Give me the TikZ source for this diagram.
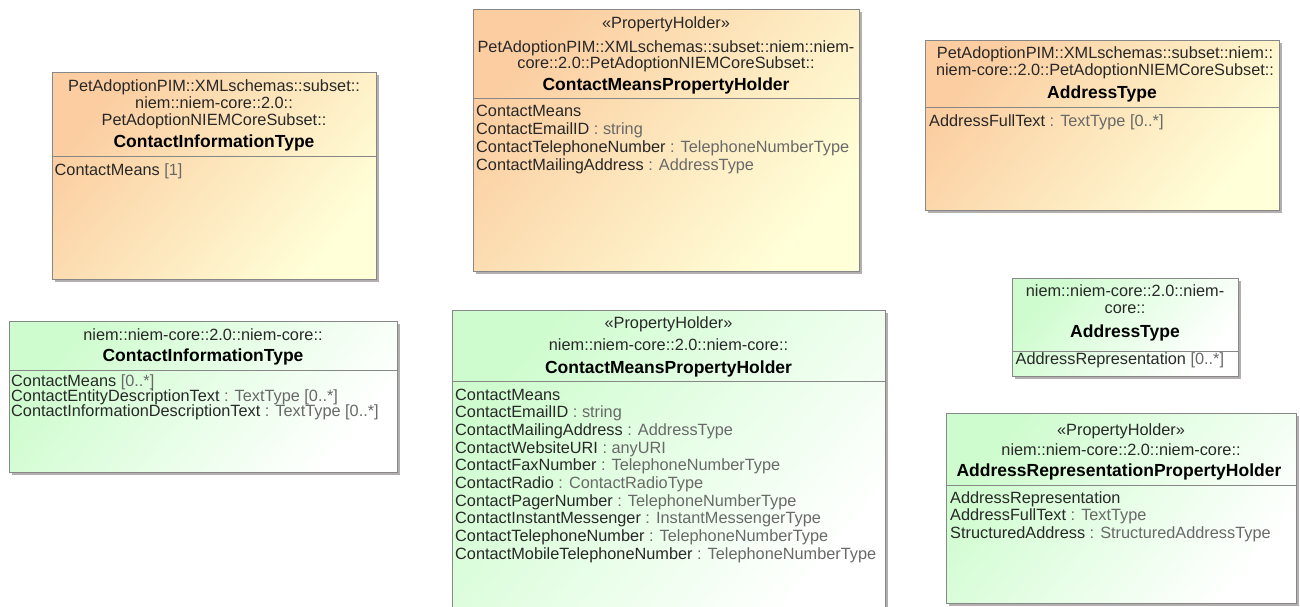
\documentclass[tikz,border=0pt]{standalone}
\usepackage{fontspec}
\setmainfont{Liberation Sans}
\usetikzlibrary{shadows}
\definecolor{orA}{RGB}{251,205,160}
\definecolor{orB}{RGB}{255,255,216}
\definecolor{grA}{RGB}{206,252,206}
\definecolor{grB}{RGB}{255,255,255}
\definecolor{borderc}{RGB}{135,135,135}
\definecolor{shadowc}{RGB}{180,175,175}
\definecolor{namec}{RGB}{40,40,40}
\definecolor{typec}{RGB}{105,105,105}
\newcommand\hfont{\fontsize{16.3}{18}\selectfont}
\newcommand\bfont{\fontsize{17.5}{19}\selectfont\bfseries}
\newcommand\ty[1]{\textcolor{typec}{#1}}
\begin{document}
\begin{tikzpicture}[x=1pt,y=-1pt,
  umlbase/.style={draw=borderc, line width=1pt, inner sep=0pt, outer sep=0pt,
    drop shadow={shadow xshift=3pt, shadow yshift=-3pt, fill=shadowc, opacity=1}},
  obox/.style={umlbase, top color=orA, bottom color=orB, shading angle=50},
  gbox/.style={umlbase, top color=grA, bottom color=grB, shading angle=50},
  div/.style={draw=borderc, line width=0.9pt},
  hd/.style={font=\hfont, text=namec, inner sep=0pt, anchor=base},
  bd/.style={font=\bfont, text=black, inner sep=0pt, anchor=base},
  att/.style={font=\hfont, text=namec, inner sep=0pt, anchor=base west}]
\useasboundingbox (0,0) rectangle (1300,606);
\clip (0,0) rectangle (1300,606);
\fill[white] (0,0) rectangle (1300,606);

% ---------- Box 1 : orange ContactInformationType
\node[obox, minimum width=324pt, minimum height=207pt] (b1) at (214,175.5) {};
\draw[div] (b1.west |- 0,156.7) -- (b1.east |- 0,156.7);
\node[hd] (b1h1) at (214,91.7) {PetAdoptionPIM::XMLschemas::subset::};
\node[hd] (b1h2) at (214,108) {niem::niem-core::2.0::};
\node[hd] (b1h3) at (214,125) {PetAdoptionNIEMCoreSubset::};
\node[bd] (b1n) at (214,147.3) {ContactInformationType};
\node[att] (b1a1) at (54.5,175) {ContactMeans \ty{[1]}};

% ---------- Box 2 : orange ContactMeansPropertyHolder
\node[obox, minimum width=386pt, minimum height=262pt] (b2) at (666,140) {};
\draw[div] (b2.west |- 0,98.3) -- (b2.east |- 0,98.3);
\node[hd] (b2s) at (666,28.3) {«PropertyHolder»};
\node[hd] (b2h1) at (666,52.3) {PetAdoptionPIM::XMLschemas::subset::niem::niem-};
\node[hd] (b2h2) at (666,68.6) {core::2.0::PetAdoptionNIEMCoreSubset::};
\node[bd] (b2n) at (666,90.7) {ContactMeansPropertyHolder};
\node[att] (b2a1) at (476,116.7) {ContactMeans};
\node[att] (b2a2) at (476,134.5) {ContactEmailID \ty{: string}};
\node[att] (b2a3) at (476,152.3) {ContactTelephoneNumber \ty{: TelephoneNumberType}};
\node[att] (b2a4) at (476,170) {ContactMailingAddress \ty{: AddressType}};

% ---------- Box 3 : orange AddressType
\node[obox, minimum width=354pt, minimum height=170pt] (b3) at (1102,125) {};
\draw[div] (b3.west |- 0,107.3) -- (b3.east |- 0,107.3);
\node[hd] (b3h1) at (1105,58.3) {PetAdoptionPIM::XMLschemas::subset::niem::};
\node[hd] (b3h2) at (1105,75) {niem-core::2.0::PetAdoptionNIEMCoreSubset::};
\node[bd] (b3n) at (1102,98.3) {AddressType};
\node[att] (b3a1) at (929,126.7) {AddressFullText \ty{: TextType [0..*]}};

% ---------- Box 4 : green ContactInformationType
\node[gbox, minimum width=388pt, minimum height=151pt] (b4) at (203,396.5) {};
\draw[div] (b4.west |- 0,370) -- (b4.east |- 0,370);
\node[hd] (b4h1) at (203,340) {niem::niem-core::2.0::niem-core::};
\node[bd] (b4n) at (203,361.7) {ContactInformationType};
\node[att] (b4a1) at (11,386.7) {ContactMeans \ty{[0..*]}};
\node[att] (b4a2) at (11,401.7) {ContactEntityDescriptionText \ty{: TextType [0..*]}};
\node[att] (b4a3) at (11,416.5) {ContactInformationDescriptionText \ty{: TextType [0..*]}};

% ---------- Box 5 : green ContactMeansPropertyHolder
\node[gbox, minimum width=433pt, minimum height=306pt] (b5) at (668.5,463) {};
\draw[div] (b5.west |- 0,381) -- (b5.east |- 0,381);
\node[hd] (b5s) at (668.5,328.3) {«PropertyHolder»};
\node[hd] (b5h1) at (668.5,350) {niem::niem-core::2.0::niem-core::};
\node[bd] (b5n) at (668.5,373.3) {ContactMeansPropertyHolder};
\node[att] (b5a1) at (455,400) {ContactMeans};
\node[att] (b5a2) at (455,417.7) {ContactEmailID \ty{: string}};
\node[att] (b5a3) at (455,435.4) {ContactMailingAddress \ty{: AddressType}};
\node[att] (b5a4) at (455,453.1) {ContactWebsiteURI \ty{: anyURI}};
\node[att] (b5a5) at (455,470.8) {ContactFaxNumber \ty{: TelephoneNumberType}};
\node[att] (b5a6) at (455,488.5) {ContactRadio \ty{: ContactRadioType}};
\node[att] (b5a7) at (455,506.2) {ContactPagerNumber \ty{: TelephoneNumberType}};
\node[att] (b5a8) at (455,523.9) {ContactInstantMessenger \ty{: InstantMessengerType}};
\node[att] (b5a9) at (455,541.6) {ContactTelephoneNumber \ty{: TelephoneNumberType}};
\node[att] (b5a10) at (455,559.3) {ContactMobileTelephoneNumber \ty{: TelephoneNumberType}};

% ---------- Box 6 : green AddressType
\node[gbox, minimum width=226pt, minimum height=98pt] (b6) at (1125,327) {};
\draw[div] (b6.west |- 0,351.7) -- (b6.east |- 0,351.7);
\node[hd] (b6h1) at (1125,296.7) {niem::niem-core::2.0::niem-};
\node[hd] (b6h2) at (1125,313.3) {core::};
\node[bd] (b6n) at (1125,337.7) {AddressType};
\node[att] (b6a1) at (1015.5,364.3) {AddressRepresentation \ty{[0..*]}};

% ---------- Box 7 : green AddressRepresentationPropertyHolder
\node[gbox, minimum width=350pt, minimum height=190pt] (b7) at (1121,508) {};
\draw[div] (b7.west |- 0,485) -- (b7.east |- 0,485);
\node[hd] (b7s) at (1121,435) {«PropertyHolder»};
\node[hd] (b7h1) at (1121,455) {niem::niem-core::2.0::niem-core::};
\node[bd] (b7n) at (1119,476.7) {AddressRepresentationPropertyHolder};
\node[att] (b7a1) at (950,503.3) {AddressRepresentation};
\node[att] (b7a2) at (950,520.7) {AddressFullText \ty{: TextType}};
\node[att] (b7a3) at (950,538.3) {StructuredAddress \ty{: StructuredAddressType}};
\end{tikzpicture}
\end{document}
